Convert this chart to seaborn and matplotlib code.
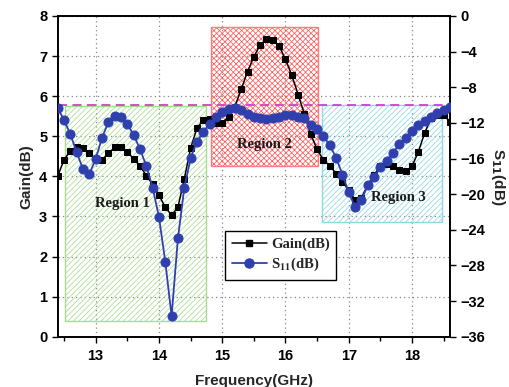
import numpy as np
import pandas as pd
import seaborn as sns
import matplotlib
matplotlib.use("Agg")
import matplotlib.pyplot as plt
from matplotlib.patches import Rectangle
from matplotlib.lines import Line2D
from matplotlib.font_manager import FontProperties
from matplotlib.ticker import MultipleLocator

freq = [12.4, 12.5, 12.6, 12.7, 12.8, 12.9, 13.0, 13.1, 13.2, 13.3, 13.4, 13.5, 13.6, 13.7,
        13.8, 13.9, 14.0, 14.1, 14.2, 14.3, 14.4, 14.5, 14.6, 14.7, 14.8, 14.9, 15.0, 15.1,
        15.2, 15.3, 15.4, 15.5, 15.6, 15.7, 15.8, 15.9, 16.0, 16.1, 16.2, 16.3, 16.4, 16.5,
        16.6, 16.7, 16.8, 16.9, 17.0, 17.1, 17.2, 17.3, 17.4, 17.5, 17.6, 17.7, 17.8, 17.9,
        18.0, 18.1, 18.2, 18.3, 18.4, 18.5, 18.6]
gain_db = [4.01, 4.41, 4.64, 4.74, 4.71, 4.57, 4.42, 4.41, 4.57, 4.72, 4.72, 4.61, 4.44, 4.26,
           4.02, 3.80, 3.53, 3.23, 3.03, 3.23, 3.93, 4.70, 5.20, 5.40, 5.42, 5.34, 5.34, 5.47,
           5.74, 6.17, 6.61, 6.98, 7.28, 7.42, 7.40, 7.25, 6.92, 6.52, 6.04, 5.55, 5.05, 4.67,
           4.41, 4.26, 4.07, 3.87, 3.65, 3.42, 3.46, 3.78, 4.03, 4.26, 4.30, 4.26, 4.16, 4.13,
           4.25, 4.61, 5.08, 5.45, 5.53, 5.53, 5.36]
s11_db = [-10.36, -11.67, -13.28, -15.30, -17.21, -17.74, -16.05, -13.66, -11.94, -11.19, -11.34,
          -12.12, -13.36, -14.93, -16.84, -19.27, -22.53, -27.58, -33.68, -24.96, -19.35, -15.98,
          -14.10, -13.06, -12.12, -11.37, -10.81, -10.47, -10.36, -10.55, -10.96, -11.33, -11.48,
          -11.52, -11.48, -11.30, -11.15, -11.10, -11.30, -11.50, -12.20, -12.70, -13.50, -14.50,
          -15.90, -17.80, -19.80, -21.45, -20.70, -19.00, -18.10, -17.00, -16.24, -15.34, -14.40,
          -13.66, -12.88, -12.24, -11.75, -11.30, -10.92, -10.55, -10.18]

regions = ["Region 1", "Region 2", "Region 3"]
region_x = [(12.52, 14.75), (14.82, 16.51), (16.58, 18.47)]
region_y = [(0.39, 5.75), (4.26, 7.73), (2.86, 5.78)]
region_label_pos = [(13.43, 3.31), (15.66, 4.80), (17.79, 3.48)]
threshold_db = -10

df = pd.DataFrame({"freq": freq, "gain": gain_db, "s11": s11_db})

sns.set_theme(style="ticks")
plt.rcParams['font.family'] = ['Liberation Sans', 'DejaVu Sans']
plt.rcParams['hatch.linewidth'] = 0.55

fig = plt.figure(figsize=(5.09, 3.87), dpi=100)
ax = fig.add_axes([0.1134, 0.13, 0.884 - 0.1134, 0.9587 - 0.13])
ax2 = ax.twinx()

blue = '#2f40ae'

# regions
styles = [dict(hcol='#a8dc90', ecol='#a8dc90', hatch='//////'),
          dict(hcol='#ff5c5c', ecol='#ff7a7a', hatch='xxxxxx'),
          dict(hcol='#8cd8e4', ecol='#8cd8e4', hatch='//////')]
for name, (x0, x1), (y0, y1), st, (tx, ty) in zip(regions, region_x, region_y, styles, region_label_pos):
    ax.add_patch(Rectangle((x0, y0), x1 - x0, y1 - y0, facecolor='none',
                           edgecolor=st['hcol'], hatch=st['hatch'], lw=0, zorder=1))
    ax.add_patch(Rectangle((x0, y0), x1 - x0, y1 - y0, facecolor='none',
                           edgecolor=st['ecol'], lw=1.0, zorder=1.1))
    ax.text(tx, ty, name, fontfamily='Liberation Serif', fontweight='bold',
            fontsize=10.5, color='#1a1a1a', ha='center', va='center', zorder=2)

sns.lineplot(data=df, x="freq", y="gain", ax=ax, color='black', marker='s',
             markersize=5, markeredgecolor='black', linewidth=1.1, zorder=3, legend=False)
ax2.axhline(threshold_db, color='#d040c8', lw=1.3, dashes=(5, 3), zorder=2)
sns.lineplot(data=df, x="freq", y="s11", ax=ax2, color=blue, marker='o',
             markersize=6.5, markeredgecolor=blue, linewidth=1.3, zorder=3, legend=False)

ax.set_xlim(12.4, 18.6)
ax.set_ylim(0, 8)
ax2.set_ylim(-36, 0)
ax.xaxis.set_major_locator(MultipleLocator(1))
ax.xaxis.set_minor_locator(MultipleLocator(0.5))
ax.yaxis.set_major_locator(MultipleLocator(1))
ax2.yaxis.set_major_locator(MultipleLocator(4))

ax.grid(True, which='major', color='#888888', linestyle=(0, (1, 2.5)), linewidth=0.9)
ax.set_axisbelow(True)

for a in (ax, ax2):
    for sp in a.spines.values():
        sp.set_color('black')
        sp.set_linewidth(1.2)
    a.tick_params(axis='both', which='both', direction='out', colors='black',
                  labelsize=10.5, width=1.0)
    a.tick_params(which='major', length=4)
    a.tick_params(which='minor', length=3)
    for lab in a.get_xticklabels() + a.get_yticklabels():
        lab.set_fontweight('bold')
ax.tick_params(axis='x', pad=5)

ax.set_xlabel("Frequency(GHz)", fontsize=11, fontweight='bold', labelpad=8)
ax.set_ylabel("Gain(dB)", fontsize=11, fontweight='bold', labelpad=4)
ax2.set_ylabel(r"S$_{\mathbf{11}}$(dB)", fontsize=11, fontweight='bold', rotation=270,
               labelpad=16, math_fontfamily='dejavusans')

handles = [Line2D([], [], color='black', marker='s', markersize=5, lw=1.1),
           Line2D([], [], color=blue, marker='o', markersize=6.5, lw=1.3)]
prop = FontProperties(family='Liberation Serif', weight='bold', size=10.5, math_fontfamily='stix')
leg = ax2.legend(handles, ["Gain(dB)", r"S$_{\mathbf{11}}$(dB)"], prop=prop,
                 loc='upper left', bbox_to_anchor=(0.427, 0.329),
                 frameon=True, fancybox=False, edgecolor='black', framealpha=1,
                 handlelength=2.4, borderpad=0.45, labelspacing=0.3, handletextpad=0.3,
                 borderaxespad=0)
leg.get_frame().set_linewidth(1.0)
leg.set_zorder(10)

fig.savefig("out.png", dpi=100)
